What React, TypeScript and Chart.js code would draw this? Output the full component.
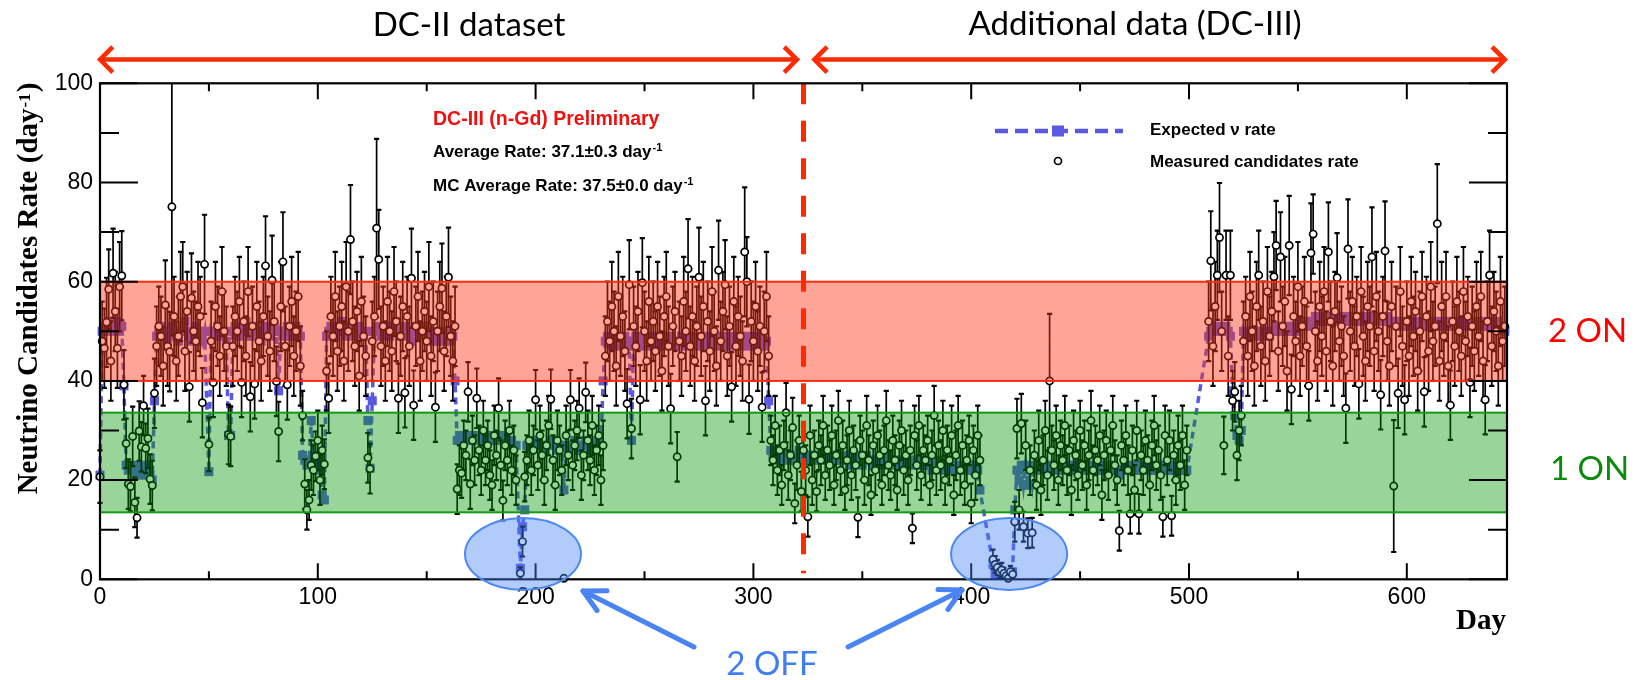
import React, { useEffect, useRef } from 'react';
import { Chart, registerables } from 'chart.js';

Chart.register(...registerables);

// ---------- axes ----------
const dayMin = 0;
const dayMax = 646;
const rateMin = 0;
const rateMax = 100;
const xMajorTicks = [0, 100, 200, 300, 400, 500, 600];
const xMinorTicks = [50, 150, 250, 350, 450, 550];
const yMajorTicks = [0, 20, 40, 60, 80, 100];
const yMinorTicks = [10, 30, 50, 70, 90];

// ---------- reactor status bands / markers ----------
const twoOnBand = [40, 60];
const oneOnBand = [13.5, 33.6];
const dcSplitDay = 323;
const dc2Span = [0, 320];
const dc3Span = [328, 645];
const offCenters = [[194.2, 5.1], [417.4, 5.1]];

// ---------- data: runs of consecutive days ----------
const runStart = [0, 1, 12, 25, 50, 51, 59, 61, 93, 104, 123, 125, 164, 193, 195, 232, 308, 410, 420, 509, 520, 525];

const dailyRate = [
  [20.7],
  [48, 46.6, 51.8, 58.5, 44, 61.7, 54, 46.6, 59, 61.2, 39.2],
  [27.4, 19.2, 18.7, 28.8, 15.5, 12.4, 29.9, 26.7, 35, 26.4, 28.4, 20.2, 18.9],
  [37.5, 47, 51, 49, 43, 55.3, 47, 45.9, 75.1, 53, 44, 49, 57, 59, 46, 54, 38.8, 56.7, 50, 48, 55, 53, 35.6, 63.5],
  [27.2],
  [48, 39.7, 55, 51, 45, 58, 50, 47],
  [29.2, 28.8],
  [47, 53, 50, 56, 39.7, 52, 45, 58, 36.8, 51, 39.4, 55, 48, 44, 53, 63.2, 49, 46, 60.3, 52, 39.9, 29.8, 55, 64, 47, 39.2, 51, 56, 45, 50, 57, 43],
  [33, 19.2, 14, 16, 23, 22, 24.8, 28, 20, 26, 23.2],
  [42, 36.5, 53, 49, 57, 46, 51, 55, 44, 59, 50, 68.5, 52, 47, 54, 41, 56, 49, 45],
  [24.5, 22.3],
  [48, 53, 70.8, 64.5, 47, 51, 44, 56, 50, 46, 58, 52, 36.5, 49, 55, 37.6, 53, 47, 60.7, 35.1, 51, 57, 44, 50, 54, 48, 59, 45, 52, 34.7, 50, 55, 58.7, 46, 53, 60.9, 49, 44, 51],
  [18.2, 22, 21.4, 27, 25, 37.8, 19.2, 28, 24, 36.5, 26, 22, 30, 24, 27, 21, 19, 29, 25, 34.5, 23, 15.9, 27, 24, 30, 22, 26, 20],
  [1.2, 7.6],
  [20.7, 24, 28, 22, 26, 36.2, 23, 29, 25, 20, 27, 31, 36.3, 24, 19, 28, 26, 22, 0.2, 29, 25, 36.2, 23, 27, 30, 34.5, 21, 25, 37.7, 28, 24, 31, 22, 26, 29, 20, 27],
  [45, 52, 48, 55, 50, 43, 57, 49, 53, 46, 35.4, 59.4, 30.4, 51, 47, 54, 36.2, 59.8, 50, 44, 56, 48, 52, 46, 55, 49, 42, 53, 57, 47, 34.4, 51, 54, 24.7, 48, 45, 56, 50, 62.6, 47, 53, 44, 51, 60.9, 49, 55, 36, 52, 46, 58, 50, 43, 62.3, 48, 54, 59.4, 45, 51, 38.8, 56, 47, 53, 49, 44, 66, 60, 36.3, 52, 48, 55, 46, 51, 34.7, 50, 57, 45],
  [28, 24, 31, 22, 26, 19, 27, 33.6, 21, 25, 30.6, 15.3, 23, 28, 17.7, 26, 22, 12.6, 29, 20, 25, 17.7, 27, 24, 31, 21, 26, 23, 29, 19, 25, 32, 22, 27, 18, 24, 30, 21, 26, 23, 12.5, 28, 25, 20, 31, 24, 17, 27, 22, 29, 25, 19, 26, 32, 23, 21, 28, 24, 18, 27, 30, 22, 25, 20, 26, 10.3, 29, 23, 31, 21, 26, 24, 28, 19, 25, 33, 22, 27, 23, 30, 20, 26, 24, 29, 17, 25, 31, 22, 27, 19, 24, 28, 15.3, 26, 21, 29, 24],
  [4, 3, 2.4, 1.5, 1.9, 1.2, 0.7, 0.2, 1.5, 1],
  [11.6, 30.4, 14, 31.4, 10.6, 27, 9.3, 22, 9.4, 25, 19, 28, 18, 24, 30, 21, 40, 26, 23, 29, 20, 27, 24, 31, 22, 26, 18, 28, 25, 21, 30, 23, 27, 19, 25, 32, 22, 26, 24, 29, 17, 25, 28, 21, 26, 31, 23, 20, 9.8, 27, 24, 29, 22, 13.2, 26, 18, 30, 13.2, 25, 22, 28, 24, 19, 27, 31, 23, 26, 21, 12.6, 29, 24, 28, 12.8, 25, 20, 27, 23, 29, 19, 26],
  [52, 64.2, 47, 55, 61.3, 68.9, 50, 27, 61.3, 45, 61.3],
  [36, 37.8, 25, 30, 33],
  [48, 53, 45, 57, 50, 43, 55, 61.3, 47, 52, 44, 58, 49, 54, 61, 67.3, 46, 65, 51, 56, 42, 67.3, 38.3, 53, 48, 59, 45, 51, 56, 47, 39, 65.8, 69.6, 50, 44, 55, 49, 58, 46, 66, 52, 43, 54, 60.8, 48, 51, 45, 34.5, 66.6, 50, 56, 47, 53, 39.4, 58, 49, 44, 55, 51, 65, 46, 57, 50, 37.2, 53, 66.2, 48, 43, 55, 18.8, 51, 37.5, 58, 47, 36.2, 52, 45, 56, 49, 54, 42, 50, 57, 37.8, 53, 46, 59, 48, 51, 71.7, 44, 55, 49, 57, 43, 35.1, 52, 47, 56, 50, 45, 58, 48, 53, 39.7, 51, 46, 55, 49, 57, 44, 36.2, 52, 61.3, 47, 54, 50, 43, 56, 48, 51],
];

const dailyRateErr = [
  [5.3],
  [8, 8, 9, 8, 8, 9, 8, 8, 9, 9, 7],
  [5, 5, 5, 6, 5, 4, 6, 5, 6, 5, 6, 5, 5],
  [7, 8, 8, 8, 8, 9, 8, 8, 26, 8, 8, 8, 9, 9, 8, 8, 7, 9, 8, 8, 9, 8, 7, 10],
  [5.4],
  [8, 7, 9, 8, 8, 9, 8, 8],
  [6, 6],
  [8, 8, 8, 9, 7, 8, 8, 9, 7, 8, 7, 9, 8, 8, 8, 10, 8, 8, 9, 8, 7, 6, 9, 10, 8, 7, 8, 9, 8, 8, 9, 8],
  [5, 5, 4, 4, 5, 5, 5, 6, 5, 5, 5],
  [8, 7, 8, 8, 9, 8, 8, 9, 8, 9, 8, 11, 8, 8, 8, 7, 9, 8, 8],
  [5, 5],
  [8, 8, 18, 10, 8, 8, 8, 9, 8, 8, 9, 8, 7, 8, 9, 7, 8, 8, 10, 7, 8, 9, 8, 8, 8, 8, 9, 8, 8, 7, 8, 9, 9, 8, 8, 10, 8, 8, 8],
  [5, 5, 5, 5, 5, 6, 5, 5, 5, 6, 5, 5, 6, 5, 5, 5, 5, 6, 5, 6, 5, 4, 5, 5, 6, 5, 5, 5],
  [1.2, 3],
  [5, 5, 6, 5, 5, 6, 5, 6, 5, 5, 5, 6, 6, 5, 5, 6, 5, 5, 0.5, 6, 5, 6, 5, 5, 6, 6, 5, 5, 6, 6, 5, 6, 5, 5, 6, 5, 5],
  [8, 8, 8, 9, 8, 8, 9, 8, 8, 8, 7, 9, 6, 8, 8, 8, 7, 9, 8, 8, 9, 8, 8, 8, 9, 8, 8, 8, 9, 8, 7, 8, 8, 5, 8, 8, 9, 8, 10, 8, 8, 8, 8, 10, 8, 9, 7, 8, 8, 9, 8, 8, 10, 8, 8, 9, 8, 8, 7, 9, 8, 8, 8, 8, 13, 9, 7, 8, 8, 9, 8, 8, 7, 8, 9, 8],
  [5, 5, 6, 5, 5, 4, 5, 6, 5, 5, 6, 4, 5, 5, 4, 5, 5, 4, 6, 5, 5, 4, 5, 5, 6, 5, 5, 5, 6, 4, 5, 6, 5, 5, 4, 5, 6, 5, 5, 5, 4, 5, 5, 5, 6, 5, 4, 5, 5, 6, 5, 4, 5, 6, 5, 5, 5, 5, 4, 5, 6, 5, 5, 5, 5, 3, 6, 5, 6, 5, 5, 5, 5, 4, 5, 6, 5, 5, 5, 6, 5, 5, 5, 6, 4, 5, 6, 5, 5, 4, 5, 5, 4, 5, 5, 6, 5],
  [2, 1.7, 1.5, 1.2, 1.4, 1.1, 0.8, 0.5, 1.2, 1],
  [4, 6, 4, 6, 3, 5, 3, 5, 3, 5, 5, 6, 5, 5, 6, 5, 13.5, 5, 5, 6, 5, 5, 5, 6, 5, 5, 5, 6, 5, 5, 6, 5, 5, 5, 5, 6, 5, 5, 5, 6, 5, 5, 6, 5, 5, 6, 5, 5, 4, 5, 5, 6, 5, 4, 5, 5, 6, 4, 5, 5, 6, 5, 5, 5, 6, 5, 5, 5, 4, 6, 5, 6, 4, 5, 5, 6, 5, 6, 5, 5],
  [8, 10, 8, 9, 9, 11, 8, 5.8, 9, 8, 9],
  [6, 6, 5, 6, 6],
  [8, 8, 8, 9, 8, 8, 9, 9, 8, 8, 8, 9, 8, 8, 9, 9, 8, 9, 8, 9, 8, 10, 7, 8, 8, 9, 8, 8, 9, 8, 7, 10, 8, 8, 8, 9, 8, 9, 8, 10, 8, 8, 8, 9, 8, 8, 8, 7, 10, 8, 9, 8, 8, 7, 9, 8, 8, 9, 8, 10, 8, 9, 8, 7, 8, 10, 8, 8, 9, 13.3, 8, 7, 9, 8, 7, 8, 8, 9, 8, 8, 8, 8, 9, 7, 8, 8, 9, 8, 8, 12, 8, 9, 8, 9, 8, 7, 8, 8, 9, 8, 8, 9, 8, 8, 7, 8, 8, 9, 8, 9, 8, 7, 8, 9, 8, 8, 8, 8, 9, 8, 8],
];

const expectedRate = [
  [21],
  [50, 51, 50, 52, 52, 50, 51, 52, 50, 51, 39],
  [23, 22, 23, 22, 21, 22, 23, 22, 21, 22, 23, 21, 20],
  [36, 49, 50, 51, 50, 49, 48, 50, 51, 50, 49, 48, 50, 51, 52, 50, 49, 48, 50, 51, 49, 50, 48, 50],
  [21.7],
  [50, 49, 50, 51, 50, 49, 50, 48],
  [29, 29],
  [50, 51, 50, 49, 50, 51, 52, 50, 49, 50, 51, 50, 49, 48, 50, 51, 50, 49, 50, 51, 50, 38, 50, 49, 50, 51, 50, 49, 50, 51, 50, 49],
  [25, 24, 23, 24, 32, 25, 23, 24, 22, 17, 16],
  [49, 50, 51, 50, 49, 50, 51, 52, 50, 49, 50, 51, 50, 49, 50, 51, 50, 49, 50],
  [32, 22.4],
  [36, 50, 51, 50, 49, 50, 51, 50, 49, 50, 51, 52, 50, 49, 50, 51, 50, 49, 48, 50, 51, 50, 49, 50, 51, 50, 49, 48, 50, 49, 48, 50, 49, 48, 49, 50, 48, 49, 40],
  [28, 29, 28, 29, 28, 29, 28, 28, 29, 28, 29, 28, 28, 29, 28, 29, 28, 28, 29, 28, 28, 29, 28, 28, 27, 28, 27, 27],
  [2.2, 10.6],
  [14, 27, 27, 28, 27, 27, 28, 27, 27, 26, 27, 27, 28, 27, 27, 26, 27, 27, 18, 27, 26, 27, 27, 28, 27, 26, 27, 27, 28, 27, 26, 27, 27, 28, 27, 27, 40],
  [48, 49, 48, 47, 48, 49, 48, 47, 48, 49, 48, 47, 28, 48, 49, 48, 47, 48, 49, 48, 47, 48, 49, 48, 47, 48, 49, 48, 47, 48, 49, 48, 47, 48, 48, 49, 48, 47, 48, 49, 48, 47, 48, 49, 48, 47, 48, 49, 48, 47, 48, 49, 48, 47, 48, 49, 48, 47, 48, 49, 48, 47, 48, 49, 48, 47, 48, 49, 48, 47, 48, 49, 48, 47, 48, 36],
  [26, 25, 26, 25, 24, 25, 26, 25, 24, 25, 25, 24, 25, 26, 25, 24, 25, 25, 24, 25, 25, 24, 25, 25, 26, 25, 24, 25, 25, 24, 24, 25, 24, 24, 25, 24, 23, 24, 24, 25, 24, 24, 23, 24, 25, 24, 24, 23, 24, 24, 24, 23, 24, 24, 25, 24, 23, 24, 24, 23, 24, 24, 23, 24, 24, 23, 24, 24, 23, 24, 23, 23, 24, 23, 22, 23, 23, 24, 23, 22, 23, 23, 22, 23, 23, 22, 23, 23, 22, 23, 22, 23, 22, 22, 23, 22, 18],
  [3, 0.8, 0.8, 0.8, 0.8, 0.8, 0.8, 0.8, 0.8, 1.5],
  [14, 22, 20, 23, 19, 23, 19, 22, 19, 23, 22, 23, 22, 23, 22, 23, 22, 23, 22, 23, 22, 22, 23, 22, 23, 22, 22, 23, 22, 22, 23, 22, 22, 23, 22, 22, 23, 22, 22, 23, 22, 22, 23, 22, 22, 23, 22, 22, 21, 22, 22, 23, 22, 22, 22, 23, 22, 22, 22, 23, 22, 22, 23, 22, 22, 22, 23, 22, 22, 23, 22, 22, 22, 23, 22, 22, 23, 22, 22, 22],
  [49, 50, 51, 50, 51, 50, 50, 50, 51, 50, 49],
  [38, 33, 29, 28, 30],
  [50, 49, 50, 49, 50, 49, 50, 50, 49, 50, 49, 50, 49, 50, 50, 51, 50, 51, 50, 51, 50, 51, 50, 51, 50, 51, 52, 51, 52, 51, 52, 51, 52, 53, 52, 53, 52, 53, 52, 53, 52, 53, 52, 53, 52, 53, 52, 52, 53, 52, 53, 52, 53, 52, 53, 52, 53, 52, 52, 53, 52, 53, 52, 52, 53, 52, 53, 52, 52, 52, 52, 51, 52, 51, 52, 51, 52, 51, 51, 52, 51, 52, 51, 51, 52, 51, 51, 52, 51, 51, 52, 51, 51, 52, 51, 51, 52, 51, 51, 52, 51, 51, 52, 51, 51, 52, 51, 51, 52, 51, 51, 52, 51, 51, 52, 51, 51, 52, 51, 51, 50],
];

// ---------- flatten runs into points ----------
const measuredPts: { x: number; y: number }[] = [];
const measuredErr: number[] = [];
const expectedPts: { x: number; y: number }[] = [];
runStart.forEach((start, r) => {
  dailyRate[r].forEach((v, i) => {
    measuredPts.push({ x: start + i, y: v });
    measuredErr.push(dailyRateErr[r][i] ?? 6);
    expectedPts.push({ x: start + i, y: expectedRate[r][i] ?? v });
  });
});

const SANS = '"Liberation Sans", Arial, sans-serif';
const SERIF = '"Liberation Serif", "Times New Roman", serif';
const DECO = 'Lato, "Liberation Sans", sans-serif';
const EXP_COLOR = '#5959e3';

function drawArrowHead(ctx: CanvasRenderingContext2D, fx: number, fy: number, tx: number, ty: number, len: number, spread: number) {
  const a = Math.atan2(ty - fy, tx - fx);
  ctx.beginPath();
  ctx.moveTo(tx - len * Math.cos(a - spread), ty - len * Math.sin(a - spread));
  ctx.lineTo(tx, ty);
  ctx.lineTo(tx - len * Math.cos(a + spread), ty - len * Math.sin(a + spread));
  ctx.stroke();
}

function textWithSup(ctx: CanvasRenderingContext2D, x: number, y: number, main: string, sup: string, font: string, supFont: string, raise: number) {
  ctx.font = font;
  ctx.fillText(main, x, y);
  const w = ctx.measureText(main).width;
  ctx.font = supFont;
  ctx.fillText(sup, x + w + 1, y - raise);
}

const overlayPlugin = {
  id: 'overlay',
  beforeDatasetDraw(chart: any, args: any) {
    if (args.index !== 0) return;
    const { ctx, chartArea: ca, scales } = chart;
    const xs = scales.x, ys = scales.y;
    ctx.save();
    ctx.beginPath();
    ctx.rect(ca.left - 5, ca.top, ca.right - ca.left + 10, ca.bottom - ca.top);
    ctx.clip();
    ctx.strokeStyle = '#000';
    ctx.lineWidth = 1.7;
    ctx.beginPath();
    measuredPts.forEach((p, i) => {
      const px = xs.getPixelForValue(p.x);
      const t = ys.getPixelForValue(p.y + measuredErr[i]);
      const b = ys.getPixelForValue(Math.max(0, p.y - measuredErr[i]));
      ctx.moveTo(px, t);
      ctx.lineTo(px, b);
    });
    ctx.stroke();
    ctx.lineWidth = 2.2;
    ctx.beginPath();
    measuredPts.forEach((p, i) => {
      const px = xs.getPixelForValue(p.x);
      const t = ys.getPixelForValue(p.y + measuredErr[i]);
      const b = ys.getPixelForValue(Math.max(0, p.y - measuredErr[i]));
      ctx.moveTo(px - 2.6, t);
      ctx.lineTo(px + 2.6, t);
      ctx.moveTo(px - 2.6, b);
      ctx.lineTo(px + 2.6, b);
    });
    ctx.stroke();
    ctx.restore();
  },
  afterDatasetsDraw(chart: any) {
    const { ctx, chartArea: ca, scales } = chart;
    const xs = scales.x, ys = scales.y;
    ctx.save();
    const band = (lo: number, hi: number, fill: string, stroke: string) => {
      const t = ys.getPixelForValue(hi), b = ys.getPixelForValue(lo);
      const l = xs.getPixelForValue(dayMin), r = xs.getPixelForValue(dayMax);
      ctx.fillStyle = fill;
      ctx.fillRect(l, t, r - l, b - t);
      ctx.strokeStyle = stroke;
      ctx.lineWidth = 2;
      ctx.strokeRect(l, t, r - l, b - t);
    };
    band(twoOnBand[0], twoOnBand[1], 'rgba(255, 55, 25, 0.45)', '#ff2d10');
    band(oneOnBand[0], oneOnBand[1], 'rgba(0, 150, 0, 0.40)', '#129a12');
    // DC-II / DC-III split
    const sx = xs.getPixelForValue(dcSplitDay);
    ctx.setLineDash([21, 16.5]);
    ctx.lineWidth = 5;
    ctx.strokeStyle = '#ff2a00';
    ctx.beginPath();
    ctx.moveTo(sx, ca.top);
    ctx.lineTo(sx, ys.getPixelForValue(1.2));
    ctx.stroke();
    ctx.restore();
  },
  afterDraw(chart: any) {
    const { ctx, chartArea: ca, scales } = chart;
    const xs = scales.x, ys = scales.y;
    ctx.save();
    // frame
    ctx.strokeStyle = '#000';
    ctx.lineWidth = 2.2;
    ctx.strokeRect(ca.left, ca.top, ca.right - ca.left, ca.bottom - ca.top);
    // inward ticks
    ctx.lineWidth = 2;
    ctx.beginPath();
    const xt = (v: number, len: number) => {
      const p = xs.getPixelForValue(v);
      ctx.moveTo(p, ca.bottom); ctx.lineTo(p, ca.bottom - len);
      ctx.moveTo(p, ca.top); ctx.lineTo(p, ca.top + len);
    };
    const yt = (v: number, len: number) => {
      const p = ys.getPixelForValue(v);
      ctx.moveTo(ca.left, p); ctx.lineTo(ca.left + len, p);
      ctx.moveTo(ca.right, p); ctx.lineTo(ca.right - len, p);
    };
    xMajorTicks.forEach((v) => xt(v, 16));
    xMinorTicks.forEach((v) => xt(v, 8));
    yMajorTicks.forEach((v) => yt(v, 38));
    yMinorTicks.forEach((v) => yt(v, 19));
    ctx.stroke();

    // y-axis title
    ctx.save();
    ctx.translate(37, 288.5);
    ctx.rotate(-Math.PI / 2);
    ctx.fillStyle = '#000';
    ctx.textBaseline = 'alphabetic';
    const tMain = 'Neutrino Candidates Rate (day';
    const tSup = '-1';
    const tEnd = ')';
    ctx.font = `bold 29px ${SERIF}`;
    const w1 = ctx.measureText(tMain).width;
    const w3 = ctx.measureText(tEnd).width;
    ctx.font = `bold 17px ${SERIF}`;
    const w2 = ctx.measureText(tSup).width;
    const total = w1 + w2 + w3 + 2;
    const sx0 = -total / 2;
    ctx.font = `bold 29px ${SERIF}`;
    ctx.fillText(tMain, sx0, 0);
    ctx.font = `bold 17px ${SERIF}`;
    ctx.fillText(tSup, sx0 + w1 + 1, -7);
    ctx.font = `bold 29px ${SERIF}`;
    ctx.fillText(tEnd, sx0 + w1 + w2 + 2, 0);
    ctx.restore();

    // x-axis title
    ctx.fillStyle = '#000';
    ctx.font = `bold 29px ${SERIF}`;
    ctx.textAlign = 'right';
    ctx.textBaseline = 'alphabetic';
    ctx.fillText('Day', 1506, 629);

    // in-plot labels
    ctx.textAlign = 'left';
    ctx.fillStyle = '#f01010';
    ctx.font = `bold 19.5px ${SANS}`;
    ctx.fillText('DC-III (n-Gd) Preliminary', 433, 125);
    ctx.fillStyle = '#000';
    textWithSup(ctx, 433, 157, 'Average Rate: 37.1\u00b10.3 day', '-1', `bold 17px ${SANS}`, `bold 11px ${SANS}`, 6);
    textWithSup(ctx, 433, 190.5, 'MC Average Rate: 37.5\u00b10.0 day', '-1', `bold 17px ${SANS}`, `bold 11px ${SANS}`, 6);

    // legend
    ctx.strokeStyle = EXP_COLOR;
    ctx.lineWidth = 4.5;
    ctx.setLineDash([13, 7]);
    ctx.beginPath();
    ctx.moveTo(995, 131);
    ctx.lineTo(1123, 131);
    ctx.stroke();
    ctx.setLineDash([]);
    ctx.fillStyle = EXP_COLOR;
    ctx.fillRect(1052, 125.5, 12, 11);
    ctx.beginPath();
    ctx.arc(1058, 161, 3.5, 0, Math.PI * 2);
    ctx.fillStyle = '#fff';
    ctx.fill();
    ctx.strokeStyle = '#000';
    ctx.lineWidth = 1.7;
    ctx.stroke();
    ctx.fillStyle = '#000';
    ctx.font = `bold 17px ${SANS}`;
    ctx.fillText('Expected \u03bd rate', 1150, 135);
    ctx.fillText('Measured candidates rate', 1150, 167);

    // top data-set arrows and titles
    ctx.strokeStyle = '#ff2a00';
    ctx.lineWidth = 4.5;
    ctx.lineCap = 'butt';
    const arrowY = 59.6;
    [dc2Span, dc3Span].forEach(([a, b]) => {
      const l = xs.getPixelForValue(a), r = xs.getPixelForValue(b);
      ctx.beginPath();
      ctx.moveTo(l + 2, arrowY);
      ctx.lineTo(r - 2, arrowY);
      ctx.stroke();
      drawArrowHead(ctx, r, arrowY, l, arrowY, 18, Math.PI / 4);
      drawArrowHead(ctx, l, arrowY, r, arrowY, 18, Math.PI / 4);
    });
    ctx.fillStyle = '#000';
    ctx.font = `33px ${DECO}`;
    ctx.textAlign = 'center';
    ctx.fillText('DC-II dataset', 469, 36);
    ctx.fillText('Additional data (DC-III)', 1135, 35);

    // status labels
    ctx.textAlign = 'left';
    ctx.font = `33px ${DECO}`;
    ctx.fillStyle = '#ff0000';
    ctx.fillText('2 ON', 1548, 342);
    ctx.fillStyle = '#0a8a0a';
    ctx.fillText('1 ON', 1550, 480);

    // 2 OFF ellipses, arrows and label
    offCenters.forEach(([d, v]) => {
      const cx = xs.getPixelForValue(d), cy = ys.getPixelForValue(v);
      ctx.beginPath();
      ctx.ellipse(cx, cy, 58, 36, 0, 0, Math.PI * 2);
      ctx.fillStyle = 'rgba(70, 130, 245, 0.42)';
      ctx.fill();
      ctx.strokeStyle = '#4d8af0';
      ctx.lineWidth = 2;
      ctx.stroke();
    });
    ctx.strokeStyle = '#4a84f4';
    ctx.lineWidth = 5;
    ctx.lineCap = 'round';
    ctx.lineJoin = 'round';
    const arrows = [[694, 647, 583, 591], [848, 647, 962, 590]];
    arrows.forEach(([fx, fy, tx, ty]) => {
      ctx.beginPath();
      ctx.moveTo(fx, fy);
      ctx.lineTo(tx, ty);
      ctx.stroke();
      drawArrowHead(ctx, fx, fy, tx, ty, 24, 0.48);
    });
    ctx.fillStyle = '#3f7df5';
    ctx.font = `33px ${DECO}`;
    ctx.textAlign = 'center';
    ctx.fillText('2 OFF', 772, 675);
    ctx.restore();
  },
};

export default function App() {
  const canvasRef = useRef<HTMLCanvasElement>(null);

  useEffect(() => {
    const canvas = canvasRef.current;
    if (!canvas) return;
    const chart = new Chart(canvas, {
      type: 'line',
      data: {
        datasets: [
          {
            label: 'Measured candidates rate',
            data: measuredPts,
            showLine: false,
            pointStyle: 'circle',
            pointRadius: 3.6,
            pointBorderWidth: 1.7,
            pointBorderColor: '#000',
            pointBackgroundColor: '#fff',
            clip: false,
            order: 0,
          },
          {
            label: 'Expected \u03bd rate',
            data: expectedPts,
            showLine: true,
            borderColor: EXP_COLOR,
            borderWidth: 3.5,
            borderDash: [7, 5],
            tension: 0,
            pointStyle: 'rect',
            pointRadius: 6.4,
            pointBorderWidth: 0,
            pointBackgroundColor: EXP_COLOR,
            clip: false,
            order: 1,
          },
        ],
      },
      options: {
        responsive: false,
        animation: false,
        devicePixelRatio: 1,
        layout: { padding: { top: 83.3, right: 133, left: 0, bottom: 0 } },
        plugins: { legend: { display: false }, tooltip: { enabled: false } },
        scales: {
          x: {
            type: 'linear',
            min: dayMin,
            max: dayMax,
            afterFit: (s: any) => { s.height = 100.7; },
            afterBuildTicks: (s: any) => { s.ticks = xMajorTicks.map((v) => ({ value: v })); },
            ticks: { color: '#000', font: { family: SANS, size: 23 }, padding: 5, maxRotation: 0, autoSkip: false },
            grid: { display: false, drawTicks: false },
            border: { display: false },
          },
          y: {
            type: 'linear',
            min: rateMin,
            max: rateMax,
            afterFit: (s: any) => { s.width = 100; },
            afterBuildTicks: (s: any) => { s.ticks = yMajorTicks.map((v) => ({ value: v })); },
            ticks: { color: '#000', font: { family: SANS, size: 23 }, padding: 7 },
            grid: { display: false, drawTicks: false },
            border: { display: false },
          },
        },
      },
      plugins: [overlayPlugin],
    } as any);
    return () => chart.destroy();
  }, []);

  return (
    <div style={{ position: 'fixed', left: 0, top: 0, width: 1640, height: 680, background: '#fff' }}>
      <canvas ref={canvasRef} width={1640} height={680} style={{ display: 'block', width: 1640, height: 680 }} />
    </div>
  );
}
